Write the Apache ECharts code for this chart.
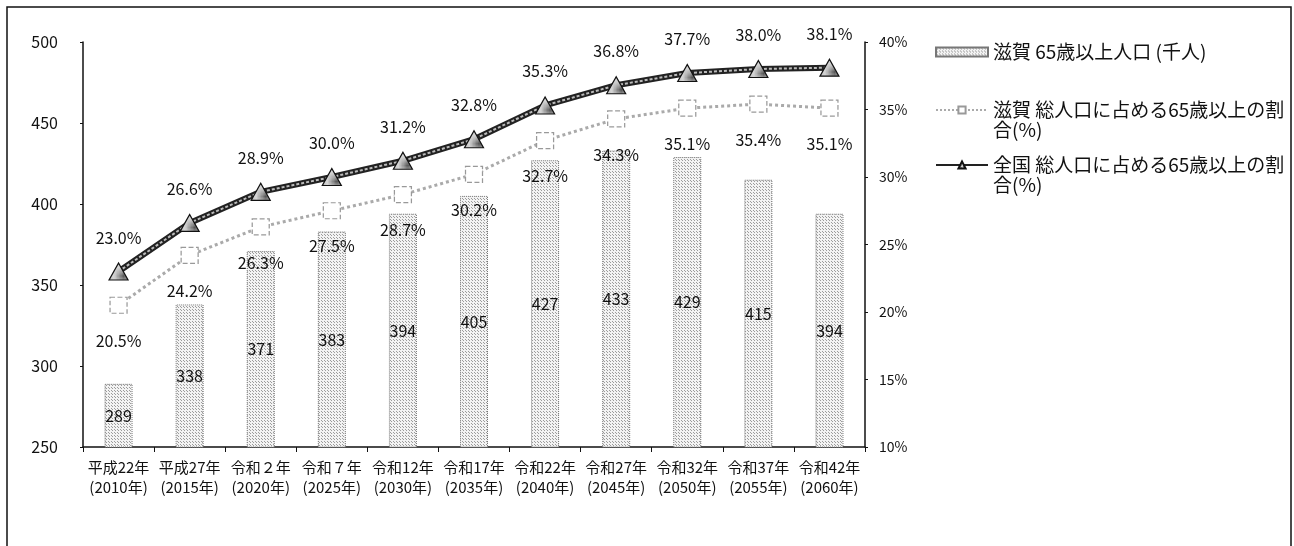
<!DOCTYPE html>
<html>
<head>
<meta charset="utf-8">
<script src="https://cdn.jsdelivr.net/npm/echarts@6/dist/echarts.min.js"></script>
<style>
  html, body { margin: 0; padding: 0; background: #fff; }
  #chart { width: 1294px; height: 546px; }
</style>
</head>
<body>
<div id="chart"></div>
<script>
// 年次区分
const categories = [
  '平成22年\n(2010年)', '平成27年\n(2015年)', '令和２年\n(2020年)', '令和７年\n(2025年)',
  '令和12年\n(2030年)', '令和17年\n(2035年)', '令和22年\n(2040年)', '令和27年\n(2045年)',
  '令和32年\n(2050年)', '令和37年\n(2055年)', '令和42年\n(2060年)'
];
// 滋賀 65歳以上人口（千人）
const shigaElderly = [289, 338, 371, 383, 394, 405, 427, 433, 429, 415, 394];
// 滋賀 総人口に占める65歳以上の割合（%）
const shigaRatio = [20.5, 24.2, 26.3, 27.5, 28.7, 30.2, 32.7, 34.3, 35.1, 35.4, 35.1];
// 全国 総人口に占める65歳以上の割合（%）
const nationalRatio = [23.0, 26.6, 28.9, 30.0, 31.2, 32.8, 35.3, 36.8, 37.7, 38.0, 38.1];

const nameBar = '滋賀 65歳以上人口 (千人)';
const nameShiga = '滋賀 総人口に占める65歳以上の割合(%)';
const nameNational = '全国 総人口に占める65歳以上の割合(%)';

// stippled fills
function stipple(bg, dot, step) {
  const c = document.createElement('canvas');
  c.width = step; c.height = step;
  const g = c.getContext('2d');
  g.fillStyle = bg; g.fillRect(0, 0, step, step);
  g.fillStyle = dot;
  g.fillRect(0, 0, 1, 1);
  g.fillRect(Math.floor(step / 2), Math.floor(step / 2), 1, 1);
  return c;
}
const barFill = { image: stipple('#f3f3f3', '#9c9c9c', 3), repeat: 'repeat' };
const triFill = { image: stipple('#d4d4d4', '#555', 3), repeat: 'repeat' };

const font = '"Noto Sans CJK JP", "Noto Sans", sans-serif';
const labelStyle = { fontFamily: font, fontSize: 16, color: '#111' };

const chart = echarts.init(document.getElementById('chart'), null, { renderer: 'canvas' });

const legendCommon = {
  orient: 'vertical',
  left: 935,
  padding: 0,
  itemWidth: 52,
  itemHeight: 9,
  itemGap: 0,
  selectedMode: false,
  textStyle: { fontFamily: font, fontSize: 19, color: '#111', lineHeight: 20 }
};

chart.setOption({
  backgroundColor: '#fff',
  animation: false,
  graphic: [{
    type: 'rect',
    shape: { x: 7, y: 7, width: 1284, height: 600 },
    style: { fill: 'none', stroke: '#111', lineWidth: 1.5 },
    silent: true
  }],
  legend: [
    Object.assign({}, legendCommon, {
      top: 42,
      data: [{ name: nameBar, icon: 'rect' }]
    }),
    Object.assign({}, legendCommon, {
      top: 80,
      data: [{ name: nameShiga }],
      // leading blank line keeps the icon level with the first text line
      formatter: () => ' \n滋賀 総人口に占める65歳以上の割\n合(%)'
    }),
    Object.assign({}, legendCommon, {
      top: 135,
      data: [{ name: nameNational }],
      formatter: () => ' \n全国 総人口に占める65歳以上の割\n合(%)'
    })
  ],
  grid: { left: 83, right: 429, top: 42, bottom: 99, containLabel: false },
  xAxis: {
    type: 'category',
    data: categories,
    axisLine: { lineStyle: { color: '#111', width: 1.5 } },
    axisTick: { show: true, alignWithLabel: false, length: 5, lineStyle: { color: '#111' } },
    axisLabel: { fontFamily: font, fontSize: 15, color: '#111', lineHeight: 20, margin: 10, interval: 0 }
  },
  yAxis: [
    {
      type: 'value', min: 250, max: 500, interval: 50,
      axisLine: { show: true, lineStyle: { color: '#111', width: 1.5 } },
      axisTick: { show: true, length: 3, lineStyle: { color: '#111' } },
      splitLine: { show: false },
      axisLabel: { fontFamily: font, fontSize: 16, color: '#111', margin: 25 }
    },
    {
      type: 'value', min: 10, max: 40, interval: 5, position: 'right',
      axisLine: { show: true, lineStyle: { color: '#111', width: 1.5 } },
      axisTick: { show: true, length: 3, lineStyle: { color: '#111' } },
      splitLine: { show: false },
      axisLabel: { fontFamily: font, fontSize: 14, color: '#111', margin: 14, formatter: '{value}%' }
    }
  ],
  series: [
    {
      name: nameBar,
      type: 'bar',
      yAxisIndex: 0,
      data: shigaElderly,
      barWidth: 28,
      itemStyle: { color: barFill, borderColor: '#777', borderWidth: 1, borderType: 'dotted' },
      label: Object.assign({ show: true, position: 'inside' }, labelStyle),
      z: 2
    },
    {
      name: nameShiga,
      type: 'line',
      yAxisIndex: 1,
      data: shigaRatio,
      symbol: 'rect',
      symbolSize: [17, 16],
      lineStyle: { color: '#aaa', width: 3, type: 'dotted' },
      itemStyle: { color: '#fff', borderColor: '#999', borderWidth: 1.2, borderType: 'dashed' },
      label: Object.assign({ show: true, position: 'bottom', distance: 19, formatter: p => p.value.toFixed(1) + '%' }, labelStyle),
      z: 3
    },
    {
      name: nameNational,
      type: 'line',
      yAxisIndex: 1,
      data: nationalRatio,
      symbol: 'triangle',
      symbolSize: [19, 17],
      lineStyle: { color: '#222', width: 6 },
      itemStyle: { color: triFill, borderColor: '#111', borderWidth: 1.2 },
      label: Object.assign({ show: true, position: 'top', distance: 17, formatter: p => p.value.toFixed(1) + '%' }, labelStyle),
      z: 4
    },
    {
      // lighter core stroke of the national line
      name: nameNational + ' core',
      type: 'line',
      yAxisIndex: 1,
      data: nationalRatio,
      symbol: 'none',
      lineStyle: { color: '#bbb', width: 2, type: [3, 2] },
      silent: true,
      z: 4
    }
  ]
});
</script>
</body>
</html>
